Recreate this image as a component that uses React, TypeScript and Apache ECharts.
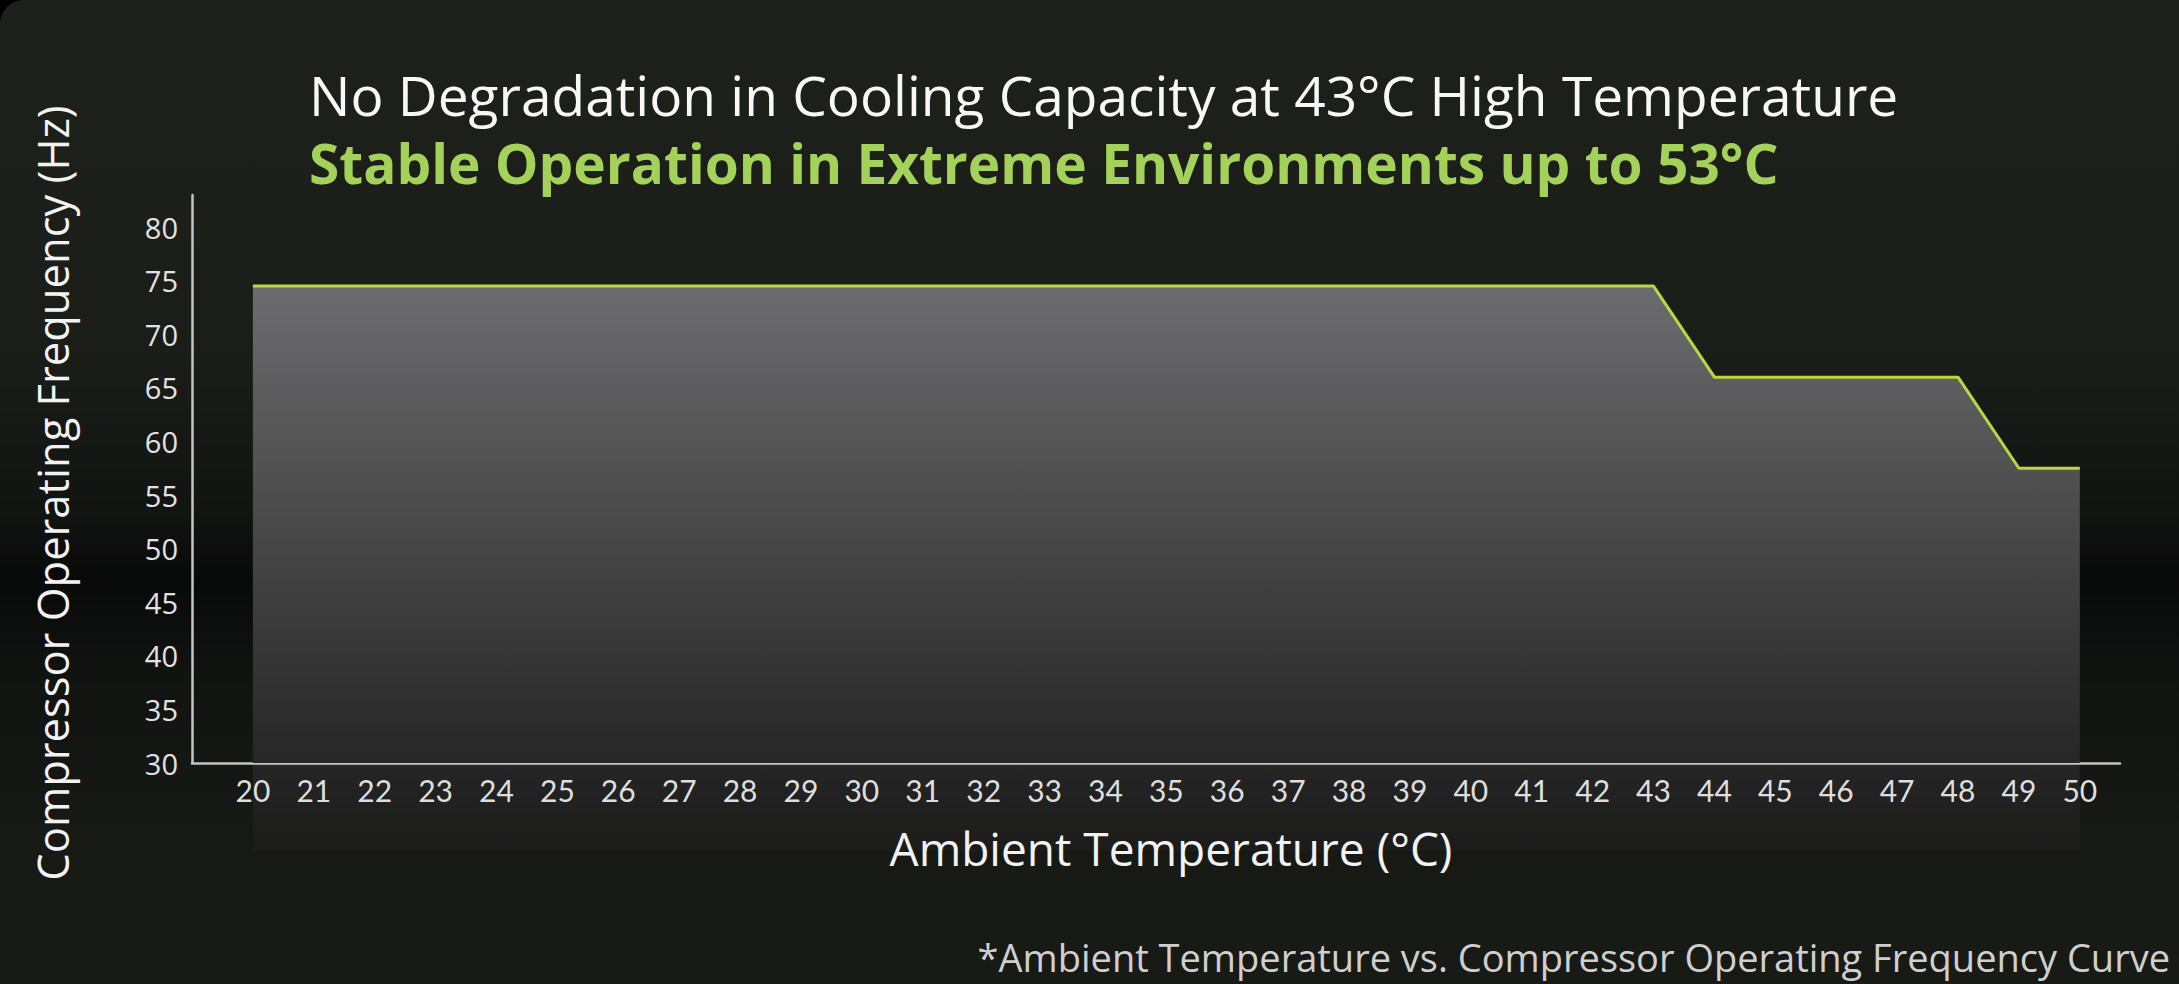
import React, { useEffect, useRef } from "react";
import * as echarts from "echarts";

const TITLE = "No Degradation in Cooling Capacity at 43°C High Temperature";
const SUBTITLE = "Stable Operation in Extreme Environments up to 53°C";
const Y_NAME = "Compressor Operating Frequency (Hz)";
const X_NAME = "Ambient Temperature (°C)";
const FOOTNOTE = "*Ambient Temperature vs. Compressor Operating Frequency Curve";

const temperatures = [
  20, 21, 22, 23, 24, 25, 26, 27, 28, 29, 30, 31, 32, 33, 34, 35, 36, 37, 38, 39,
  40, 41, 42, 43, 44, 45, 46, 47, 48, 49, 50,
];
const frequency = [
  74.5, 74.5, 74.5, 74.5, 74.5, 74.5, 74.5, 74.5, 74.5, 74.5, 74.5, 74.5, 74.5,
  74.5, 74.5, 74.5, 74.5, 74.5, 74.5, 74.5, 74.5, 74.5, 74.5, 74.5, 66, 66, 66,
  66, 66, 57.5, 57.5,
];
const yTicks = [30, 35, 40, 45, 50, 55, 60, 65, 70, 75, 80];

const FUT = "Lato, 'Noto Sans', sans-serif";
const HEAD = "'Open Sans', 'Noto Sans', sans-serif";

export default function App() {
  const ref = useRef<HTMLDivElement>(null);
  useEffect(() => {
    document.body.style.margin = "0";
    document.body.style.background = "#000";
    const chart = echarts.init(ref.current!, null, { renderer: "svg" });
    chart.setOption({
      animation: false,
      backgroundColor: "transparent",
      grid: { left: 192, right: 59, top: 195, bottom: 221, containLabel: false },
      xAxis: {
        type: "value",
        min: 19,
        max: 50.66,
        interval: 1,
        splitLine: { show: false },
        axisTick: { show: false },
        axisLine: { show: true, lineStyle: { color: "#c4c4c4", width: 2.5 } },
        axisLabel: {
          color: "#dedede",
          fontFamily: FUT,
          fontSize: 30,
          margin: 12,
          formatter: (v: number) => (temperatures.includes(v) ? String(v) : ""),
        },
      },
      yAxis: {
        type: "value",
        min: 30,
        max: 83,
        interval: 5,
        splitLine: { show: false },
        axisTick: { show: false },
        axisLine: { show: true, lineStyle: { color: "#c4c4c4", width: 2.5 } },
        axisLabel: {
          color: "#e2e2e2",
          fontFamily: "'Open Sans', sans-serif",
          fontSize: 29,
          margin: 14,
          formatter: (v: number) => (yTicks.includes(v) ? String(v) : ""),
        },
      },
      series: [
        {
          type: "line",
          data: temperatures.map((t, i) => [t, frequency[i]]),
          symbol: "none",
          lineStyle: { color: "#bcd641", width: 3 },
          areaStyle: {
            origin: "start",
            opacity: 1,
            color: new echarts.graphic.LinearGradient(0, 0, 0, 1, [
              { offset: 0, color: "#6c6c6e" },
              { offset: 1, color: "#262626" },
            ]),
          },
          z: 3,
        },
      ],
    });
    const x20 = chart.convertToPixel({ xAxisIndex: 0 }, temperatures[0]) as number;
    const x50 = chart.convertToPixel(
      { xAxisIndex: 0 },
      temperatures[temperatures.length - 1]
    ) as number;
    const yBase = chart.convertToPixel({ yAxisIndex: 0 }, yTicks[0]) as number;
    chart.setOption({
      graphic: [
        {
          type: "rect",
          z: -1,
          shape: { x: x20, y: yBase, width: x50 - x20, height: 88 },
          style: {
            fill: new echarts.graphic.LinearGradient(0, 0, 0, 1, [
              { offset: 0, color: "rgba(38,38,38,1)" },
              { offset: 1, color: "rgba(32,32,32,0.5)" },
            ]),
          },
        },
        {
          type: "text",
          x: 309,
          y: 94,
          style: {
            text: TITLE,
            fill: "#f7f7f7",
            font: `400 55px ${HEAD}`,
            align: "left",
            verticalAlign: "middle",
          },
        },
        {
          type: "text",
          x: 309,
          y: 162,
          style: {
            text: SUBTITLE,
            fill: "#a4d159",
            font: `bold 55px ${HEAD}`,
            align: "left",
            verticalAlign: "middle",
          },
        },
        {
          type: "text",
          x: 52,
          y: 493,
          rotation: Math.PI / 2,
          style: {
            text: Y_NAME,
            fill: "#f2f2f2",
            font: `43.5px ${HEAD}`,
            align: "center",
            verticalAlign: "middle",
          },
        },
        {
          type: "text",
          x: 1171,
          y: 848,
          style: {
            text: X_NAME,
            fill: "#f2f2f2",
            font: `46px ${HEAD}`,
            align: "center",
            verticalAlign: "middle",
          },
        },
        {
          type: "text",
          x: 2170,
          y: 957,
          style: {
            text: FOOTNOTE,
            fill: "#cfcfcf",
            font: `38px ${HEAD}`,
            lineHeight: 40,
            align: "right",
            verticalAlign: "middle",
          },
        },
      ],
    });
    return () => chart.dispose();
  }, []);
  return (
    <div
      ref={ref}
      style={{
        width: 2179,
        height: 984,
        borderTopLeftRadius: 24,
        overflow: "hidden",
        background:
          "linear-gradient(to bottom, #1d201b 0%, #1a1d18 35%, #121412 52%, #080909 59%, #111311 68%, #171915 85%, #181a16 100%)",
      }}
    />
  );
}
